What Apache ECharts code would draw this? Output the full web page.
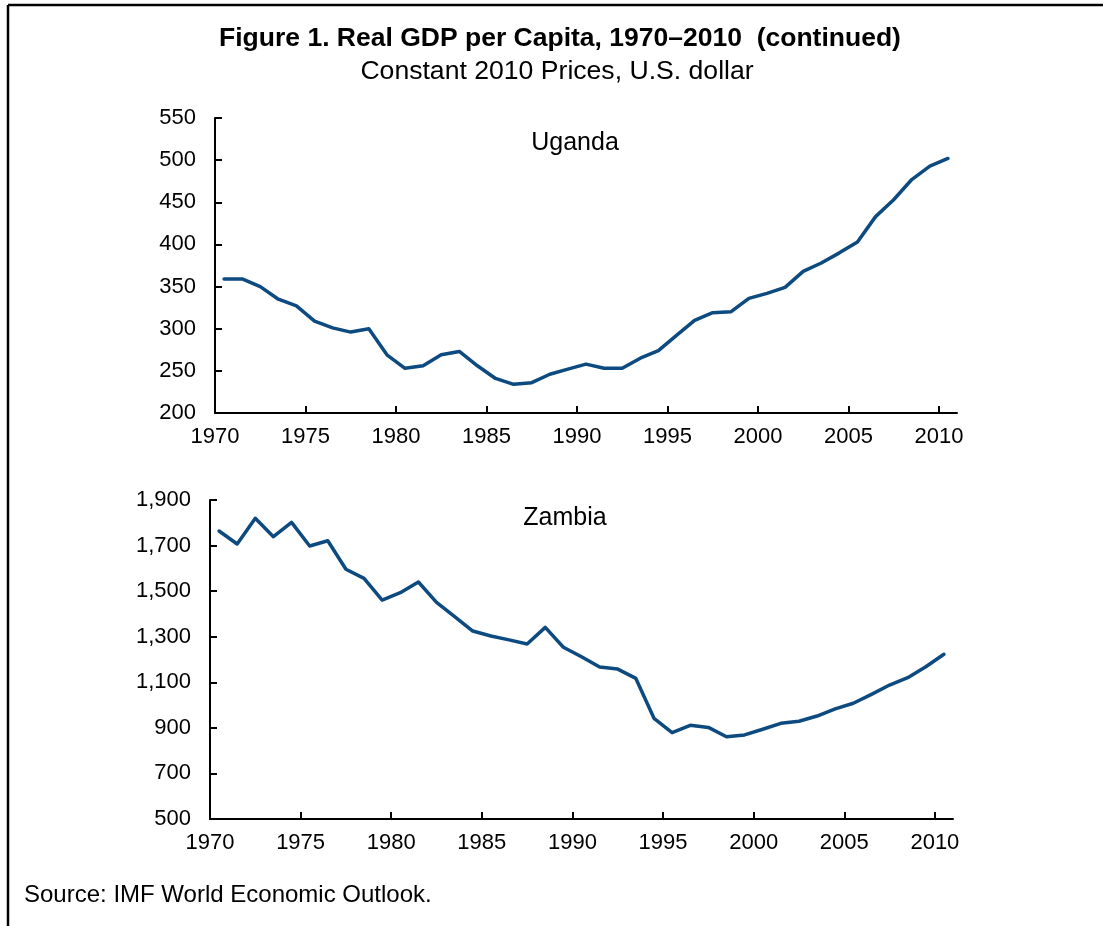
<!DOCTYPE html>
<html>
<head>
<meta charset="utf-8">
<script src="https://cdn.jsdelivr.net/npm/echarts@6/dist/echarts.min.js"></script>
<style>
  html, body { margin: 0; padding: 0; background: #fff; }
  #chart { width: 1103px; height: 926px; }
</style>
</head>
<body>
<div id="chart"></div>
<script>
// data
const years = [1970, 1971, 1972, 1973, 1974, 1975, 1976, 1977, 1978, 1979,
  1980, 1981, 1982, 1983, 1984, 1985, 1986, 1987, 1988, 1989,
  1990, 1991, 1992, 1993, 1994, 1995, 1996, 1997, 1998, 1999,
  2000, 2001, 2002, 2003, 2004, 2005, 2006, 2007, 2008, 2009, 2010]
const uganda = [359, 359, 350, 335, 327, 309, 301, 296, 300, 269,
  253, 256, 269, 273, 256, 241, 234, 236, 246, 252,
  258, 253, 253, 265, 274, 292, 310, 319, 320, 336,
  342, 349, 368, 378, 390, 403, 433, 453, 477, 493, 502]
const zambia = [1764, 1707, 1820, 1739, 1802, 1698, 1721, 1596, 1556, 1461,
  1493, 1540, 1451, 1388, 1325, 1303, 1286, 1268, 1341, 1254,
  1212, 1167, 1158, 1117, 942, 879, 911, 902, 861, 869,
  894, 920, 929, 952, 983, 1008, 1047, 1088, 1120, 1168, 1223]
const xTicks = [1970, 1975, 1980, 1985, 1990, 1995, 2000, 2005, 2010]
const ugandaTicks = [200, 250, 300, 350, 400, 450, 500, 550]
const zambiaTicks = [500, 700, 900, 1100, 1300, 1500, 1700, 1900]

const FONT = "'Liberation Sans', Arial, sans-serif"
const LINE = '#0d4a80'

const chart = echarts.init(document.getElementById('chart'))

// points sit in the middle of each year
const toPoints = vals => years.map((y, i) => [y + 0.5, vals[i]])

const xAxisCommon = {
  type: 'value',
  min: years[0],
  max: years[years.length - 1] + 1,
  splitLine: { show: false },
  axisLine: { lineStyle: { color: '#000', width: 2 } },
  axisTick: { inside: true, length: 7, customValues: xTicks, lineStyle: { color: '#000', width: 2 } },
  axisLabel: {
    customValues: xTicks, color: '#000', fontSize: 22, fontFamily: FONT, margin: 13,
    formatter: v => String(v)
  }
}

const yAxisCommon = ticks => ({
  type: 'value',
  min: ticks[0],
  max: ticks[ticks.length - 1],
  interval: ticks[1] - ticks[0],
  splitLine: { show: false },
  axisLine: { show: true, lineStyle: { color: '#000', width: 2 } },
  axisTick: { show: true, inside: true, length: 7, lineStyle: { color: '#000', width: 2 } },
  axisLabel: {
    color: '#000', fontSize: 22, fontFamily: FONT, margin: 19,
    formatter: v => v.toLocaleString('en-US')
  }
})

const lineSeries = (idx, vals) => ({
  type: 'line',
  xAxisIndex: idx,
  yAxisIndex: idx,
  data: toPoints(vals),
  symbol: 'none',
  lineStyle: { color: LINE, width: 3.5, cap: 'round', join: 'round' },
  animation: false
})

const text = (t, x, y, size, weight, align) => ({
  type: 'text',
  x: x,
  y: y,
  style: {
    text: t,
    fill: '#000',
    font: (weight || 'normal') + ' ' + size + 'px ' + FONT,
    textAlign: align || 'center',
    textVerticalAlign: 'middle'
  }
})

const option = {
  animation: false,
  grid: [
    { left: 215, top: 118, width: 742, height: 295 },
    { left: 210, top: 500, width: 743, height: 319 }
  ],
  xAxis: [
    Object.assign({ gridIndex: 0 }, xAxisCommon),
    Object.assign({ gridIndex: 1 }, xAxisCommon)
  ],
  yAxis: [
    Object.assign({ gridIndex: 0 }, yAxisCommon(ugandaTicks)),
    Object.assign({ gridIndex: 1 }, yAxisCommon(zambiaTicks))
  ],
  series: [
    lineSeries(0, uganda),
    lineSeries(1, zambia)
  ],
  graphic: [
    // frame, top and left edges only
    { type: 'line', shape: { x1: 8, y1: 5, x2: 1103, y2: 5 }, style: { stroke: '#000', lineWidth: 2.5 } },
    { type: 'line', shape: { x1: 8, y1: 5, x2: 8, y2: 926 }, style: { stroke: '#000', lineWidth: 2.5 } },
    text('Figure 1. Real GDP per Capita, 1970\u20132010  (continued)', 560, 39, 26.5, 'bold'),
    text('Constant 2010 Prices, U.S. dollar', 557, 72, 26.6),
    text('Uganda', 575, 143, 25),
    text('Zambia', 565, 518, 25),
    text('Source: IMF World Economic Outlook.', 24, 895, 24, 'normal', 'left')
  ]
}

chart.setOption(option)
</script>
</body>
</html>
